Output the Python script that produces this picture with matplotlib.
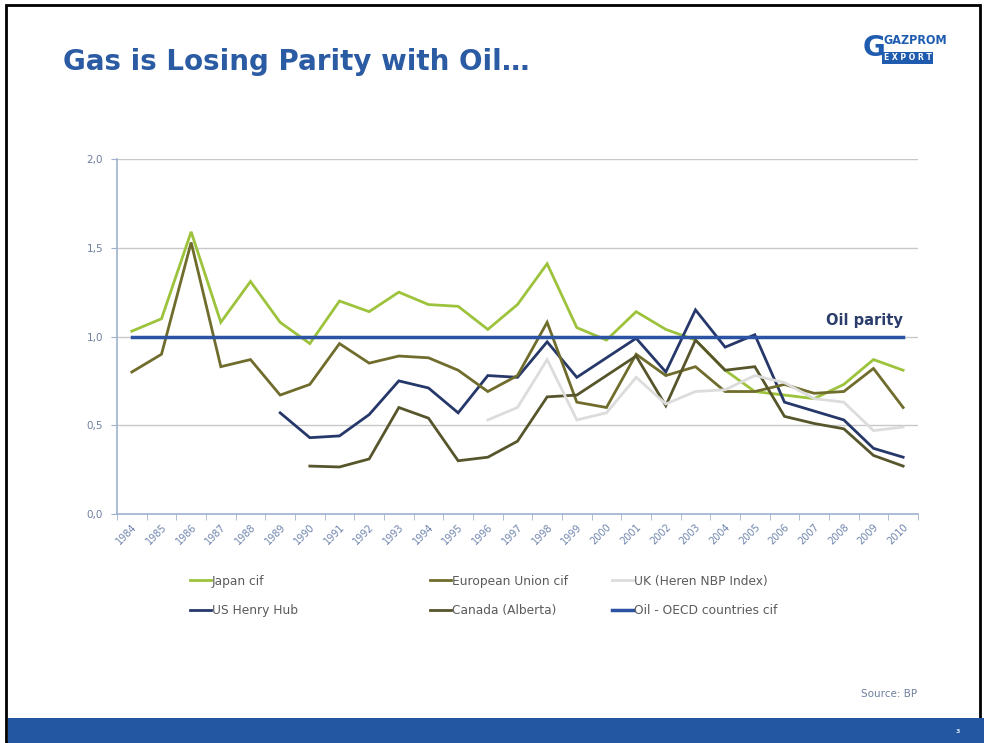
import numpy as np
import matplotlib

matplotlib.use("Agg")
import matplotlib.pyplot as plt
from matplotlib.patches import Rectangle
from matplotlib.ticker import FuncFormatter, MultipleLocator

nan = np.nan

years = [str(y) for y in range(1984, 2011)]

japan = [1.03, 1.10, 1.59, 1.08, 1.31, 1.08, 0.96, 1.20, 1.14, 1.25, 1.18, 1.17, 1.04,
         1.18, 1.41, 1.05, 0.98, 1.14, 1.04, 0.98, 0.81, 0.69, 0.67, 0.65, 0.73, 0.87, 0.81]
eu = [0.80, 0.90, 1.53, 0.83, 0.87, 0.67, 0.73, 0.96, 0.85, 0.89, 0.88, 0.81, 0.69,
      0.78, 1.08, 0.63, 0.60, 0.90, 0.78, 0.83, 0.69, 0.69, 0.73, 0.68, 0.69, 0.82, 0.60]
uk = [nan, nan, nan, nan, nan, nan, nan, nan, nan, nan, nan, nan, 0.53,
      0.60, 0.87, 0.53, 0.57, 0.77, 0.62, 0.69, 0.70, 0.78, 0.74, 0.65, 0.63, 0.47, 0.49]
henry_hub = [nan, nan, nan, nan, nan, 0.57, 0.43, 0.44, 0.56, 0.75, 0.71, 0.57, 0.78,
             0.77, 0.97, 0.77, 0.88, 0.99, 0.80, 1.15, 0.94, 1.01, 0.63, 0.58, 0.53, 0.37, 0.32]
canada = [nan, nan, nan, nan, nan, nan, 0.27, 0.265, 0.31, 0.60, 0.54, 0.30, 0.32,
          0.41, 0.66, 0.67, 0.78, 0.89, 0.61, 0.98, 0.81, 0.83, 0.55, 0.51, 0.48, 0.33, 0.27]
oil = [1.0] * len(years)

series = [
    ("Japan cif", japan, "#9cc33b", 2.0),
    ("US Henry Hub", henry_hub, "#26386a", 2.0),
    ("European Union cif", eu, "#6f6c2c", 2.0),
    ("Canada (Alberta)", canada, "#57552b", 2.0),
    ("UK (Heren NBP Index)", uk, "#dcdcdc", 2.0),
    ("Oil - OECD countries cif", oil, "#2c52a3", 2.5),
]

fig = plt.figure(figsize=(9.84, 7.43), dpi=100)

# slide frame and footer bar
fig.add_artist(Rectangle((0.006, 0.0), 0.99, 0.993, transform=fig.transFigure,
                         fill=False, edgecolor="black", linewidth=2))
fig.add_artist(Rectangle((0.008, 0.0), 0.992, 0.034, transform=fig.transFigure,
                         facecolor="#2357a2", edgecolor="none"))
fig.text(0.973, 0.016, "3", color="#dfe8f5", fontsize=4.5, ha="center", va="center",
         fontweight="bold")

fig.text(0.064, 0.917, "Gas is Losing Parity with Oil…", color="#2b5ba3", fontsize=20,
         fontweight="bold", ha="left", va="center")
# logo as text
fig.text(0.898, 0.946, "GAZPROM", color="#1f5cb0", fontsize=9, fontweight="bold",
         ha="left", va="center", fontstretch="condensed")
fig.text(0.898, 0.922, "E X P O R T", color="white", fontsize=5.5, fontweight="bold",
         ha="left", va="center",
         bbox=dict(facecolor="#1f5cb0", edgecolor="none", pad=1.2))
fig.text(0.888, 0.935, "G", color="#1f5cb0", fontsize=20, fontweight="bold",
         ha="center", va="center")

ax = fig.add_axes([0.1189, 0.3082, 0.8140, 0.4778])
x = np.arange(len(years))
lines = []
for label, vals, color, lw in series:
    ln, = ax.plot(x, vals, color=color, linewidth=lw, label=label, solid_joinstyle="miter")
    lines.append(ln)

ax.text(26, 1.09, "Oil parity", color="#2a3d6b", fontsize=10.5, fontweight="bold",
        ha="right", va="center")

ax.set_xlim(-0.5, len(years) - 0.5)
ax.set_ylim(0, 2.0)
ax.yaxis.set_major_locator(MultipleLocator(0.5))
ax.yaxis.set_major_formatter(FuncFormatter(lambda v, p: f"{v:.1f}".replace(".", ",")))
ax.grid(axis="y", color="#c8c8c8", linewidth=1)
ax.set_axisbelow(True)
ax.set_xticks(x)
ax.set_xticklabels(years, rotation=45, ha="right", rotation_mode="anchor",
                   color="#6f84ad", fontsize=7)
ax.set_xticks(np.arange(-0.5, len(years)), minor=True)
ax.tick_params(axis="x", which="major", length=0, pad=6)
ax.tick_params(axis="x", which="minor", length=4, color="#9fb1cf", direction="out")
ax.tick_params(axis="y", length=4, color="#9fb1cf", labelcolor="#6f7f9f", labelsize=7.5, pad=6)
for side in ("top", "right"):
    ax.spines[side].set_visible(False)
for side in ("left", "bottom"):
    ax.spines[side].set_color("#9fb1cf")
    ax.spines[side].set_linewidth(1.2)

# three legend columns at fixed positions, like the slide
col_x = [0.193, 0.437, 0.622]
for i, cx in enumerate(col_x):
    pair = lines[2 * i:2 * i + 2]
    leg = fig.legend(pair, [l.get_label() for l in pair], loc="upper left",
                     bbox_to_anchor=(cx - 0.005, 0.233), frameon=False, fontsize=8.8,
                     handlelength=1.75, handletextpad=0.05, labelspacing=1.35,
                     borderaxespad=0)
    for t in leg.get_texts():
        t.set_color("#5a5a5a")

fig.text(0.932, 0.066, "Source: BP", color="#6f7f9f", fontsize=7.5, ha="right", va="center")

fig.savefig("out.png", dpi=100)
